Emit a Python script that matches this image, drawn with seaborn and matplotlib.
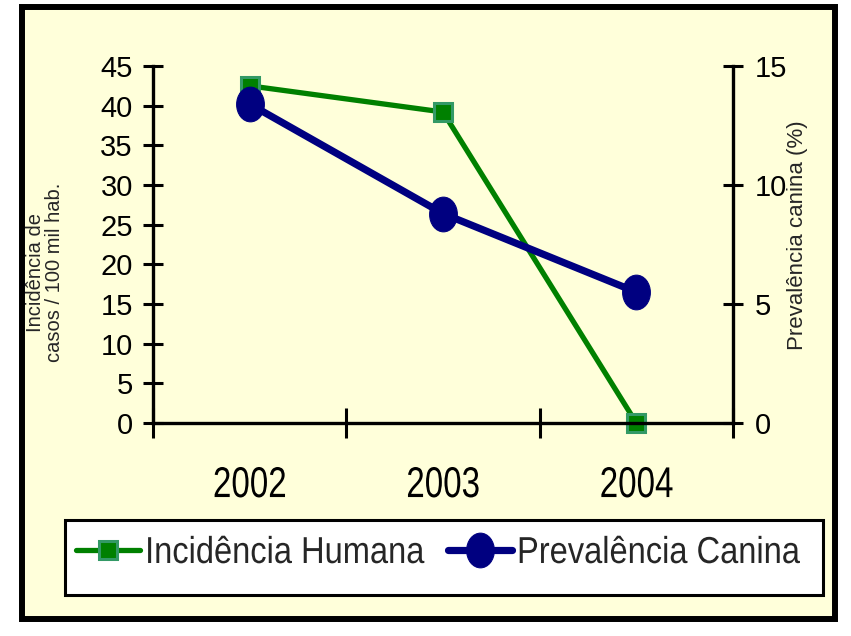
import matplotlib
matplotlib.use("Agg")
import matplotlib.pyplot as plt
import seaborn as sns
import pandas as pd
from matplotlib.patches import Rectangle
from matplotlib.path import Path
from matplotlib.transforms import Affine2D
from matplotlib.patheffects import AbstractPathEffect

# ---- data ----
years = ["2002", "2003", "2004"]
incidencia_humana = [42.5, 39.2, 0.0]      # casos / 100 mil hab. (left axis)
prevalencia_canina = [13.4, 8.8, 5.5]      # % (right axis)
left_ticks = [0, 5, 10, 15, 20, 25, 30, 35, 40, 45]
right_ticks = [0, 5, 10, 15]
series_names = ["Incidência Humana", "Prevalência Canina"]
left_label = "Incidência de\ncasos / 100 mil hab."
right_label = "Prevalência canina (%)"


class Squeeze(AbstractPathEffect):
    """Draw text narrower along its reading direction (condensed look)."""

    def __init__(self, sx, anchor="center"):
        super().__init__()
        self.sx = sx
        self.anchor = anchor

    def draw_path(self, renderer, gc, tpath, affine, rgbFace=None):
        ext = tpath.get_extents()
        if self.anchor == "left":
            cx = ext.x0
        elif self.anchor == "right":
            cx = ext.x1
        else:
            cx = 0.5 * (ext.x0 + ext.x1)
        t = Affine2D().translate(-cx, 0).scale(self.sx, 1.0).translate(cx, 0) + affine
        renderer.draw_path(gc, tpath, t, rgbFace)


sns.set_style("white")
plt.rcParams["font.family"] = ["Liberation Sans", "DejaVu Sans"]

W, H = 851, 636
fig = plt.figure(figsize=(W / 100, H / 100), dpi=100, facecolor="white")

# outer frame with pale yellow fill
fig.add_artist(Rectangle((22 / W, 1 - 619 / H), (835 - 22) / W, (619 - 7) / H,
                         transform=fig.transFigure, facecolor="#FFFFDA",
                         edgecolor="black", linewidth=4.3, zorder=-5))

ax = fig.add_axes([153 / W, 1 - 423 / H, 580 / W, 357 / H])
ax.set_facecolor("none")
ax2 = ax.twinx()
ax2.set_facecolor("none")

df_h = pd.DataFrame({"ano": years, "valor": incidencia_humana})
df_c = pd.DataFrame({"ano": years, "valor": prevalencia_canina})

circ = Path.unit_circle()
ell = Path(circ.vertices * [0.8, 1.0], circ.codes)

sns.lineplot(data=df_h, x="ano", y="valor", ax=ax, color="#008000", linewidth=3.8,
             marker="s", markersize=13, markerfacecolor="#008000",
             markeredgecolor="#339966", markeredgewidth=2.2, legend=False, clip_on=False)
sns.lineplot(data=df_c, x="ano", y="valor", ax=ax2, color="#000080", linewidth=5.2,
             marker=ell, markersize=25, markerfacecolor="#000080",
             markeredgecolor="#000080", legend=False, clip_on=False)

ax.set_xlim(-0.5, 2.5)
ax.set_ylim(0, 45)
ax2.set_ylim(0, 15)
ax.set_xlabel("")
ax.set_ylabel("")
ax2.set_xlabel("")
ax2.set_ylabel("")

for s in ["top", "right"]:
    ax.spines[s].set_visible(False)
for s in ["top", "left", "bottom"]:
    ax2.spines[s].set_visible(False)
for sp in [ax.spines["left"], ax.spines["bottom"], ax2.spines["right"]]:
    sp.set_linewidth(2.4)
    sp.set_color("black")

ax.set_yticks(left_ticks)
ax.set_yticklabels([str(v) for v in left_ticks])
ax.tick_params(axis="y", which="major", direction="inout", length=15, width=2.2,
               pad=7, labelsize=21, colors="black", left=True)
ax.set_xticks(range(len(years)))
ax.set_xticklabels(years)
ax.tick_params(axis="x", which="major", length=0, pad=31, labelsize=31, colors="black")
ax.set_xticks([-0.5, 0.5, 1.5, 2.5], minor=True)
ax.tick_params(axis="x", which="minor", direction="inout", length=22, width=2.2,
               color="black", bottom=True)
for t in ax.get_xticklabels():
    t.set_path_effects([Squeeze(0.77, "center")])

ax2.set_yticks(right_ticks)
ax2.set_yticklabels([str(v) for v in right_ticks])
ax2.tick_params(axis="y", which="major", direction="inout", length=15, width=2.2,
                pad=8.5, labelsize=21, colors="black", right=True)

# axis titles
fig.text(45 / W, 1 - 272 / H, left_label, rotation=90, ha="center", va="center",
         multialignment="center", fontsize=14.5, linespacing=0.95)
fig.text(797 / W, 1 - 235 / H, right_label, rotation=90, ha="center", va="center",
         fontsize=16)

# legend: white framed box with two entries
fig.add_artist(Rectangle((64.5 / W, 1 - 594.5 / H), 758 / W, 75 / H,
                         transform=fig.transFigure, facecolor="white",
                         edgecolor="black", linewidth=2.2, zorder=1))
h1 = ax.lines[0]
h2 = ax2.lines[0]
leg_kw = dict(loc="center left", fontsize=27, frameon=False, borderpad=0,
              borderaxespad=0, handlelength=1.7, handletextpad=0.13)
leg1 = fig.legend([h1], [series_names[0]], bbox_to_anchor=(76 / W, 1 - 553 / H), **leg_kw)
leg2 = fig.legend([h2], [series_names[1]], bbox_to_anchor=(448 / W, 1 - 553 / H), **leg_kw)
for lg in (leg1, leg2):
    lg.set_zorder(5)
    for t in lg.get_texts():
        t.set_path_effects([Squeeze(0.87, "left")])

fig.savefig("out.png", dpi=100, facecolor="white")
